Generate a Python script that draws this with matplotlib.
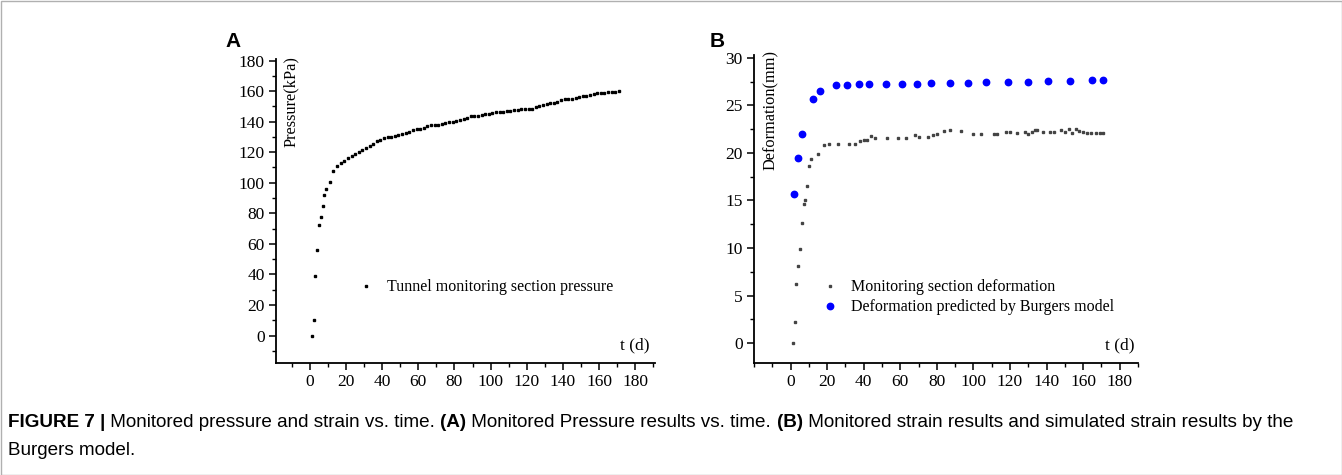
import matplotlib
matplotlib.use("Agg")
import matplotlib.pyplot as plt
from matplotlib.ticker import MultipleLocator
from matplotlib.patches import Rectangle

# ---------------- data ----------------
t_pressure = [1, 2, 3, 4, 5, 6, 7, 8, 9, 11, 13,
              15, 17, 19, 21, 23, 25, 27, 29, 31, 33, 35, 37, 39, 41, 43, 45, 47, 49,
              51, 53, 55, 57, 59, 61, 63, 65, 67, 69, 71, 73, 75, 77, 79, 81, 83, 85,
              87, 89, 91, 93, 95, 97, 99, 101, 103, 105, 107, 109, 111, 113, 115, 117,
              119, 121, 123, 125, 127, 129, 131, 133, 135, 137, 139, 141, 143, 145, 147,
              149, 151, 153, 155, 157, 159, 161, 163, 165, 167, 169, 171]
pressure = [0, 10, 39, 56, 72.5, 77.5, 85, 92, 96, 100.5, 108,
            111, 113, 114.5, 116, 117.5, 118.5, 120, 121.5, 122.5, 124, 125.5, 127, 128,
            129.5, 130, 130, 130.5, 131, 132, 132.5, 133.5, 134.5, 135, 135.5, 136, 137,
            137.5, 138, 138, 138.5, 139, 139.5, 140, 140.5, 141, 142, 142.5, 143.5, 143.5,
            144, 144.5, 145, 145, 145.5, 146, 146, 146.5, 147, 147, 147.5, 147.5, 148,
            148.5, 148.5, 148.5, 149.5, 150.5, 151, 151.5, 152, 152, 153, 154, 154.5,
            154.5, 155, 155.5, 156, 156.5, 157, 157.5, 158, 158.5, 159, 159, 159.5, 159.5,
            159.5, 160]

t_monitor = [1.1, 2.2, 3.1, 4.2, 5.1, 6, 7.1, 8, 9.1, 10, 10.9, 14.8, 18.2, 21, 26, 32,
             35, 37.9, 40, 42, 43.9, 46, 53, 59, 63, 68, 70, 75, 78, 80, 84, 87, 93, 100,
             104, 111, 113, 118, 120, 124, 128, 130, 132, 133.5, 135, 138, 142, 144, 148,
             150, 152, 154, 156, 158, 160, 162, 164.5, 167, 169, 171]
deform_monitor = [0, 2.2, 6.2, 8.15, 9.9, 12.6, 14.6, 15.0, 16.5, 18.6, 19.4, 19.9, 20.8,
                  20.9, 20.9, 20.9, 20.95, 21.3, 21.35, 21.35, 21.8, 21.6, 21.6, 21.6,
                  21.55, 21.85, 21.7, 21.7, 21.85, 22.0, 22.3, 22.4, 22.35, 22.0, 22.0,
                  21.95, 22.0, 22.2, 22.2, 22.1, 22.25, 22.0, 22.2, 22.4, 22.4, 22.25,
                  22.2, 22.2, 22.4, 22.25, 22.5, 22.1, 22.55, 22.3, 22.2, 22.1, 22.1,
                  22.1, 22.1, 22.1]

t_burgers = [2.0, 3.8, 6, 12, 16, 24.8, 30.9, 37.2, 43, 52, 61, 69, 77, 87, 97, 107, 119,
             130, 141, 153, 165, 171]
deform_burgers = [15.7, 19.5, 22.0, 25.7, 26.5, 27.1, 27.15, 27.2, 27.2, 27.25, 27.3, 27.3,
                  27.35, 27.4, 27.4, 27.45, 27.5, 27.5, 27.55, 27.6, 27.65, 27.65]

x_ticks = [0, 20, 40, 60, 80, 100, 120, 140, 160, 180]
label_a_series = "Tunnel monitoring section pressure"
label_b_series1 = "Monitoring section deformation"
label_b_series2 = "Deformation predicted by Burgers model"

# ---------------- figure ----------------
W, H = 1342, 475
fig = plt.figure(figsize=(W / 100, H / 100), dpi=100)
serif = ["Liberation Serif", "DejaVu Serif"]
sans = ["Liberation Sans", "DejaVu Sans"]
narrow = ["Liberation Sans Narrow", "Liberation Sans", "DejaVu Sans"]
TICK_FS = 12.5
LAB_FS = 11.8
LEG_FS = 11.5


def px_axes(l, r, t, b):
    return fig.add_axes([l / W, 1 - b / H, (r - l) / W, (b - t) / H])


def style(ax, ymaj, ymin):
    for s in ["top", "right"]:
        ax.spines[s].set_visible(False)
    for s in ["left", "bottom"]:
        ax.spines[s].set_linewidth(1.3)
    ax.set_xticks(x_ticks)
    ax.xaxis.set_minor_locator(MultipleLocator(10))
    ax.yaxis.set_major_locator(MultipleLocator(ymaj))
    ax.yaxis.set_minor_locator(MultipleLocator(ymin))
    ax.tick_params(which="major", direction="out", length=5, width=1.1,
                   labelsize=TICK_FS, pad=3)
    ax.tick_params(which="minor", direction="out", length=3, width=1.0)
    for lab in ax.get_xticklabels() + ax.get_yticklabels():
        lab.set_fontfamily(serif)


# Panel A
axA = px_axes(276, 655, 59, 363)
axA.plot(t_pressure, pressure, linestyle="none", marker="s", markersize=2.0,
         color="black", label=label_a_series)
axA.set_xlim(-18.8, 191)
axA.set_ylim(-18, 181)
style(axA, 20, 10)
axA.text(0.04, 0.86, "Pressure(kPa)", transform=axA.transAxes, rotation=90,
         ha="center", va="center", fontsize=LAB_FS, family=serif)
axA.text(0.985, 0.03, "t (d)", transform=axA.transAxes, ha="right", va="bottom",
         fontsize=12.5, family=serif)
axA.legend(loc="upper left", bbox_to_anchor=((347 - 276) / 379, (363 - 273) / 304),
           frameon=False, prop={"family": serif, "size": LEG_FS},
           handletextpad=0.5, handlelength=1.6, borderaxespad=0)
fig.text(225 / W, 1 - 47 / H, "A", fontsize=15, fontweight="bold", family=sans,
         ha="left", va="baseline")

# Panel B
axB = px_axes(754, 1138, 55, 363)
axB.plot(t_monitor, deform_monitor, linestyle="none", marker="s", markersize=1.8,
         color="#444444", label=label_b_series1)
axB.plot(t_burgers, deform_burgers, linestyle="none", marker="o", markersize=4.6,
         color="#0000ff", label=label_b_series2)
axB.set_xlim(-20, 190)
axB.set_ylim(-2.1, 30.3)
style(axB, 5, 2.5)
axB.text(0.045, 0.82, "Deformation(mm)", transform=axB.transAxes, rotation=90,
         ha="center", va="center", fontsize=LAB_FS, family=serif)
axB.text(0.992, 0.03, "t (d)", transform=axB.transAxes, ha="right", va="bottom",
         fontsize=12.5, family=serif)
axB.legend(loc="upper left", bbox_to_anchor=((811 - 754) / 384, (363 - 273) / 308),
           frameon=False, prop={"family": serif, "size": LEG_FS},
           handletextpad=0.5, handlelength=1.6, labelspacing=0.25, borderaxespad=0)
fig.text(710 / W, 1 - 47 / H, "B", fontsize=15, fontweight="bold", family=sans,
         ha="left", va="baseline")

# Caption (pieces chained one after another)
cap_size = 13.6
pieces = [("FIGURE 7 |", "bold"),
          (" Monitored pressure and strain vs. time. ", "normal"),
          ("(A)", "bold"),
          (" Monitored Pressure results vs. time. ", "normal"),
          ("(B)", "bold"),
          (" Monitored strain results and simulated strain results by the", "normal")]
prev = fig.text(8 / W, 1 - 427 / H, pieces[0][0], fontsize=cap_size,
                fontweight=pieces[0][1], family=narrow, ha="left", va="baseline")
for txt, wt in pieces[1:]:
    prev = axA.annotate(txt, xy=(1, 0), xycoords=prev, xytext=(0, 0),
                        textcoords="offset points", fontsize=cap_size, fontweight=wt,
                        family=narrow, ha="left", va="bottom", annotation_clip=False)
fig.text(8 / W, 1 - 455 / H, "Burgers model.", fontsize=cap_size, family=narrow,
         ha="left", va="baseline")

fig.patches.append(Rectangle((0.5 / W, 0.5 / H), 1 - 1 / W, 1 - 1 / H,
                             transform=fig.transFigure, fill=False,
                             edgecolor="#b0b0b0", linewidth=1.0))

fig.savefig("out.png", dpi=100)
